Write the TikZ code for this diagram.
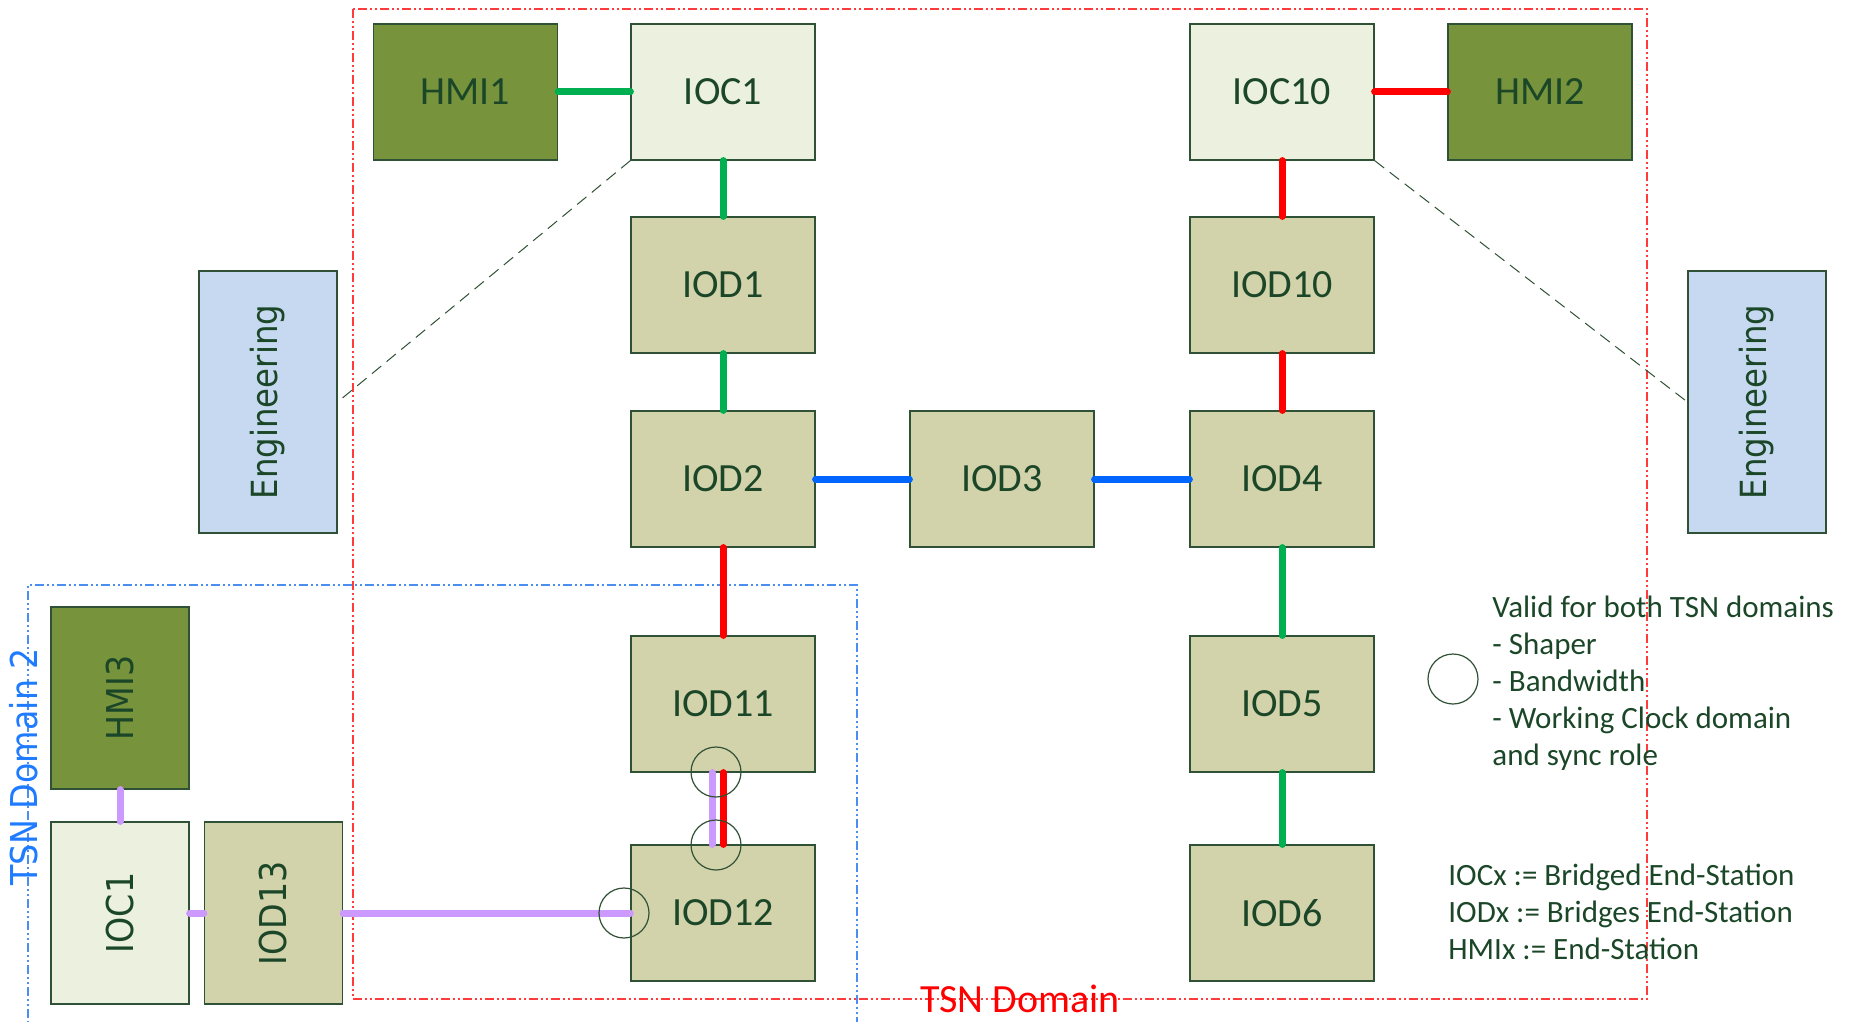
\documentclass[tikz,border=0pt]{standalone}
\usepackage{fontspec}
\usepackage{graphicx}
\setmainfont{Carlito}
\newfontfamily\widesans[FakeStretch=0.9]{DejaVu Sans}

\definecolor{hmifill}{HTML}{77933C}
\definecolor{iocfill}{HTML}{EBF1DE}
\definecolor{iodfill}{HTML}{D3D3AB}
\definecolor{engfill}{HTML}{C6D9F0}
\definecolor{boxline}{HTML}{2F5135}
\definecolor{txt}{HTML}{1B4728}
\definecolor{lgreen}{HTML}{00B050}
\definecolor{lred}{HTML}{FF0000}
\definecolor{lblue}{HTML}{0066FF}
\definecolor{lpurple}{HTML}{CC99FF}
\definecolor{domred}{HTML}{FF3B3B}
\definecolor{domblue}{HTML}{4A8FEF}
\definecolor{labblue}{HTML}{1F7BFF}

\begin{document}
\begin{tikzpicture}[x=0.5pt,y=-0.5pt,
  box/.style={draw=boxline, line width=0.6pt, inner sep=0pt, text=txt,
    font=\fontsize{20}{24}\selectfont},
  big/.style={box, minimum width=92pt, minimum height=68pt},
  hmi/.style={big, fill=hmifill},
  ioc/.style={big, fill=iocfill},
  iod/.style={big, fill=iodfill},
  tall/.style={box, minimum width=69pt, minimum height=91pt,
    font=\widesans\fontsize{18.5}{22}\selectfont},
  eng/.style={box, fill=engfill, minimum width=69pt, minimum height=131pt,
    font=\widesans\fontsize{18}{22}\selectfont},
  link/.style={line width=3.5pt, line cap=round},
  gl/.style={link, draw=lgreen},
  rl/.style={link, draw=lred},
  bl/.style={link, draw=lblue},
  pl/.style={link, draw=lpurple},
  assoc/.style={draw=boxline, line width=0.5pt, dash pattern=on 6pt off 3.5pt},
  zoneline/.style={line width=0.75pt,
    dash pattern=on 4.5pt off 1.5pt on 1pt off 1.5pt on 1pt off 1.5pt},
  ring/.style={circle, draw=boxline, line width=0.6pt, minimum size=25pt, inner sep=0pt},
  legend/.style={anchor=base west, inner sep=0pt, text=txt,
    font=\fontsize{15.5}{18.5}\selectfont}
]
\useasboundingbox (0,0) rectangle (1853,1022);

% TSN domain borders
\draw[zoneline, draw=domred] (353,9) rectangle (1647,999);
\draw[zoneline, draw=domblue] (28,1040) -- (28,585) -- (857,585) -- (857,1040);

% main TSN domain
\node[hmi] (HMI1)  at (465.5,92) {HMI1};
\node[ioc] (IOC1)  at (723,92)   {IOC1};
\node[ioc] (IOC10) at (1282,92)  {IOC10};
\node[hmi] (HMI2)  at (1540,92)  {HMI2};
\node[iod] (IOD1)  at (723,285)  {IOD1};
\node[iod] (IOD10) at (1282,285) {IOD10};
\node[iod] (IOD2)  at (723,479)  {IOD2};
\node[iod] (IOD3)  at (1002,479) {IOD3};
\node[iod] (IOD4)  at (1282,479) {IOD4};
\node[iod] (IOD11) at (723,704)  {IOD11};
\node[iod] (IOD5)  at (1282,704) {IOD5};
\node[iod] (IOD12) at (723,913)  {IOD12};
\node[iod] (IOD6)  at (1282,913) {IOD6};

% engineering stations
\node[eng] (EngL) at (268,402)  {\rotatebox{90}{Engineering}};
\node[eng] (EngR) at (1757,402) {\rotatebox{90}{Engineering}};

% TSN domain 2 devices
\node[tall, fill=hmifill] (HMI3)  at (120,698)   {\rotatebox{90}{HMI3}};
\node[tall, fill=iocfill] (IOC1b) at (120,913)   {\rotatebox{90}{IOC1}};
\node[tall, fill=iodfill] (IOD13) at (273.5,913) {\rotatebox{90}{IOD13}};

% engineering access
\draw[assoc] (IOC1.south west) -- (EngL.east);
\draw[assoc] (IOC10.south east) -- (EngR.west);

% links
\draw[gl] (HMI1.east) -- (IOC1.west);
\draw[gl] (IOC1.south) -- (IOD1.north);
\draw[gl] (IOD1.south) -- (IOD2.north);
\draw[bl] (IOD2.east) -- (IOD3.west);
\draw[bl] (IOD3.east) -- (IOD4.west);
\draw[rl] (IOC10.east) -- (HMI2.west);
\draw[rl] (IOC10.south) -- (IOD10.north);
\draw[rl] (IOD10.south) -- (IOD4.north);
\draw[gl] (IOD4.south) -- (IOD5.north);
\draw[gl] (IOD5.south) -- (IOD6.north);
\draw[rl] (IOD2.south) -- (IOD11.north);
\draw[pl] ([xshift=-5.5pt]IOD11.south) -- ([xshift=-5.5pt]IOD12.north);
\draw[rl] (IOD11.south) -- (IOD12.north);
\draw[pl] (HMI3.south) -- (IOC1b.north);
\draw[pl] (IOC1b.east) -- (IOD13.west);
\draw[pl] (IOD13.east) -- (IOD12.west);

% port markers
\node[ring] (r1) at (716,772) {};
\node[ring] (r2) at (716,845) {};
\node[ring] (r3) at (624,913) {};
\node[ring] (rkey) at (1453,679) {};

% domain labels
\node[anchor=base, inner sep=0pt, text=lred, font=\fontsize{20}{24}\selectfont]
  (domlab) at (1020,1012) {TSN Domain};
\node[inner sep=0pt, text=labblue, font=\widesans\fontsize{18.5}{22}\selectfont]
  (dom2lab) at (24,767) {\rotatebox{90}{TSN Domain 2}};

% legend
\foreach \t [count=\i] in {Valid for both TSN domains, - Shaper, - Bandwidth,
    - Working Clock domain, and sync role}
  \node[legend] (keyA\i) at (1492,{617+37*(\i-1)}) {\t};
\foreach \t [count=\i] in {IOCx := Bridged End-Station, IODx := Bridges End-Station,
    HMIx := End-Station}
  \node[legend] (keyB\i) at (1448,{885+37*(\i-1)}) {\t};
\end{tikzpicture}
\end{document}
